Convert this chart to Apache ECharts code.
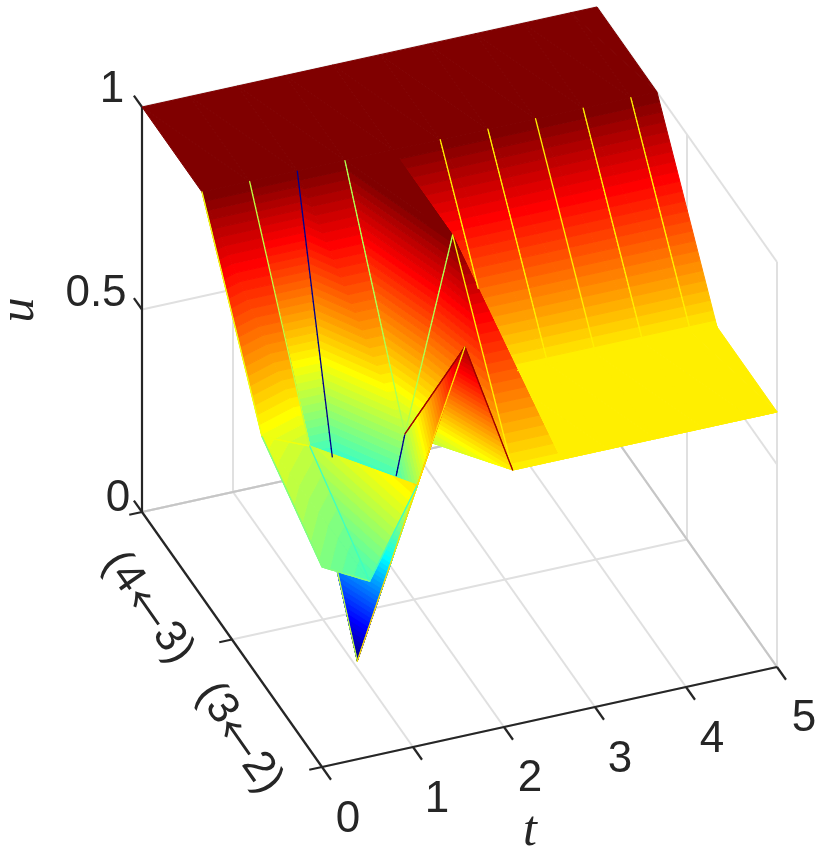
<!DOCTYPE html>
<html>
<head>
<meta charset="utf-8">
<style>html,body{margin:0;padding:0;background:#fff}#c{width:830px;height:859px}</style>
<script src="https://cdn.jsdelivr.net/npm/echarts@6/dist/echarts.min.js"></script>
</head>
<body>
<div id="c"></div>
<script>
// ---- data ----
const tValues = [0, 0.5236, 1.0472, 1.5708, 2.0944, 2.618, 3.1416, 3.6652, 4.1888, 4.7124, 5];
const sValues = [0, 1/3, 2/3, 1];
const uAtS0  = [0.494, 0.433, 0.644, 0.96, 0.63, 0.63, 0.63, 0.63, 0.63, 0.63, 0.63];
const uAtS13 = [0.606, 0.557, 0, 0.535, 1, 0.63, 0.63, 0.63, 0.63, 0.63, 0.63];
const uAtS23 = [1, 1, 1, 1, 1, 1, 1, 1, 1, 1, 1];
const uAtS1  = [1, 1, 1, 1, 1, 1, 1, 1, 1, 1, 1];
const tTicks = [0, 1, 2, 3, 4, 5];
const uTicks = [0, 0.5, 1];
const sTicks = [0, 0.5, 1];
const tTickLabels = ['0', '1', '2', '3', '4', '5'];
const uTickLabels = ['0', '0.5', '1'];
const sTickLabels = ['(3\u21902)', '(4\u21903)'];

const uGrid = [uAtS0, uAtS13, uAtS23, uAtS1];

// ---- oblique view of the (t, s, u) box onto the page plane ----
function proj(t, s, u) { return [322 + 91 * t - 180 * s, 767 - 20 * t - 255 * s - 405 * u]; }
function depth(t, s, u) { return -30 * t - 365.5 * s + 284.5 * u; }

// MATLAB jet(64)
const jet = (function () {
  const ramp = [];
  for (let i = 1; i <= 16; i++) ramp.push(i / 16);
  for (let i = 0; i < 15; i++) ramp.push(1);
  for (let i = 16; i >= 1; i--) ramp.push(i / 16);
  const out = [];
  for (let k = 1; k <= 64; k++) {
    const r = k >= 25 ? ramp[k - 25] : 0;
    const g = (k >= 9 && k <= 55) ? ramp[k - 9] : 0;
    const b = k <= 39 ? ramp[k + 7] : 0;
    out.push('rgb(' + Math.round(r * 255) + ',' + Math.round(g * 255) + ',' + Math.round(b * 255) + ')');
  }
  return out;
})();
function level(u) { return Math.max(0, Math.min(63, Math.floor(u * 64))); }

function clipBand(poly, v, keepAbove) {
  const out = [];
  for (let i = 0; i < poly.length; i++) {
    const a = poly[i], b = poly[(i + 1) % poly.length];
    const ina = keepAbove ? a[2] >= v : a[2] <= v;
    const inb = keepAbove ? b[2] >= v : b[2] <= v;
    if (ina) out.push(a);
    if (ina !== inb) {
      const f = (v - a[2]) / (b[2] - a[2]);
      out.push([a[0] + (b[0] - a[0]) * f, a[1] + (b[1] - a[1]) * f, v]);
    }
  }
  return out;
}

// faces: two triangles per mesh cell, split along the same diagonal everywhere
const faces = [];
function V(i, j) { return [tValues[i], sValues[j], uGrid[j][i]]; }
function addFace(a, b, c) {
  const vs = [a, b, c];
  faces.push({
    vs: vs,
    scr: vs.map(function (v) { const xy = proj(v[0], v[1], v[2]); return [xy[0], xy[1], depth(v[0], v[1], v[2])]; })
  });
}
for (let j = 0; j < sValues.length - 1; j++) {
  for (let i = 0; i < tValues.length - 1; i++) {
    addFace(V(i, j + 1), V(i, j), V(i + 1, j));
    addFace(V(i, j + 1), V(i + 1, j + 1), V(i + 1, j));
  }
}
// depth of a face at a page position, or null if the position is outside it
function faceDepthAt(F, x, y) {
  const a = F.scr[0], b = F.scr[1], c = F.scr[2];
  const den = (b[0] - a[0]) * (c[1] - a[1]) - (c[0] - a[0]) * (b[1] - a[1]);
  if (Math.abs(den) < 1e-6) return null;
  const l1 = ((x - a[0]) * (c[1] - a[1]) - (c[0] - a[0]) * (y - a[1])) / den;
  const l2 = ((b[0] - a[0]) * (y - a[1]) - (x - a[0]) * (b[1] - a[1])) / den;
  if (l1 < 0 || l2 < 0 || l1 + l2 > 1) return null;
  return a[2] + (b[2] - a[2]) * l1 + (c[2] - a[2]) * l2;
}
// which face of each overlapping pair is behind: sampled over both faces
const nF = faces.length;
const behind = [];
for (let i = 0; i < nF; i++) behind.push(new Array(nF).fill(0));
const M = 36;
faces.forEach(function (A, ia) {
  for (let p = 0; p <= M; p++) {
    for (let q = 0; q <= M - p; q++) {
      const w = (M - p - q) / M, l1 = p / M, l2 = q / M;
      const x = A.scr[0][0] * w + A.scr[1][0] * l1 + A.scr[2][0] * l2;
      const y = A.scr[0][1] * w + A.scr[1][1] * l1 + A.scr[2][1] * l2;
      const d = A.scr[0][2] * w + A.scr[1][2] * l1 + A.scr[2][2] * l2;
      for (let ib = 0; ib < nF; ib++) {
        if (ib === ia) continue;
        const db = faceDepthAt(faces[ib], x, y);
        if (db === null) continue;
        if (db - d > 0.5) behind[ia][ib]++;
        else if (d - db > 0.5) behind[ib][ia]++;
      }
    }
  }
});
function meanDepth(F) { return (F.scr[0][2] + F.scr[1][2] + F.scr[2][2]) / 3; }
const order = [];
(function () {
  const left = faces.map(function (f, i) { return i; });
  while (left.length) {
    let best = -1, bestScore = Infinity;
    left.forEach(function (i) {
      let blockers = 0;
      left.forEach(function (j) { if (j !== i && behind[j][i] > behind[i][j]) blockers++; });
      const score = blockers * 1e6 + meanDepth(faces[i]);
      if (score < bestScore) { bestScore = score; best = i; }
    });
    order.push(best);
    left.splice(left.indexOf(best), 1);
  }
})();

// colour bands of each face, back to front
const items = [];
order.forEach(function (idx) {
  const vs = faces[idx].vs;
  const poly = vs.map(function (v) { const xy = proj(v[0], v[1], v[2]); return [xy[0], xy[1], v[2]]; });
  const lo = level(Math.min(vs[0][2], vs[1][2], vs[2][2]));
  const hi = level(Math.max(vs[0][2], vs[1][2], vs[2][2]));
  for (let k = lo; k <= hi; k++) {
    let pg = poly;
    if (k > lo) pg = clipBand(pg, k / 64, true);
    if (k < hi) pg = clipBand(pg, (k + 1) / 64, false);
    if (pg.length >= 3) items.push({ pts: pg.map(function (v) { return [v[0], v[1]]; }), color: jet[k], kind: 'f' });
  }
});

// mesh edges: each takes the colour of its first vertex; a piece is dropped where a face lies in front of it
function hidden(x, y, d) {
  for (let k = 0; k < nF; k++) {
    const dt = faceDepthAt(faces[k], x, y);
    if (dt !== null && dt > d + 1.5) return true;
  }
  return false;
}
const edgeItems = [];
function addEdge(a, b, col) {
  const n = 60;
  for (let k = 0; k < n; k++) {
    const m1 = [0, 1, 2].map(function (m) { return a[m] + (b[m] - a[m]) * k / n; });
    const m2 = [0, 1, 2].map(function (m) { return a[m] + (b[m] - a[m]) * (k + 1) / n; });
    const p1 = proj(m1[0], m1[1], m1[2]), p2 = proj(m2[0], m2[1], m2[2]);
    const d = depth((m1[0] + m2[0]) / 2, (m1[1] + m2[1]) / 2, (m1[2] + m2[2]) / 2);
    if (!hidden((p1[0] + p2[0]) / 2, (p1[1] + p2[1]) / 2, d)) edgeItems.push({ d: d, pts: [p1, p2], color: col, kind: 'e' });
  }
}
// edges between two top-level vertices carry the same dark red as the faces around them and add nothing
for (let j = 0; j < sValues.length; j++) {
  for (let i = 0; i < tValues.length; i++) {
    const c = jet[level(uGrid[j][i])];
    if (i < tValues.length - 1 && !(uGrid[j][i] === 1 && uGrid[j][i + 1] === 1)) addEdge(V(i, j), V(i + 1, j), c);
    if (j < sValues.length - 1 && i < tValues.length - 1 && !(uGrid[j][i] === 1 && uGrid[j + 1][i] === 1)) addEdge(V(i, j), V(i, j + 1), c);
  }
}
edgeItems.sort(function (x, y) { return x.d - y.d; });
edgeItems.forEach(function (e) { items.push(e); });

// box and grid lines
const T0 = tTicks[0], T1 = tTicks[tTicks.length - 1];
const gridLines = [], darkGrid = [], axisLines = [], tickLines = [];
tTicks.forEach(function (t) {
  gridLines.push([proj(t, 0, 0), proj(t, 1, 0)]);
  gridLines.push([proj(t, 1, 0), proj(t, 1, 1)]);
  tickLines.push([proj(t, 0, 0), proj(t, -0.05, 0)]);
});
sTicks.forEach(function (s) {
  gridLines.push([proj(T0, s, 0), proj(T1, s, 0)]);
  gridLines.push([proj(T1, s, 0), proj(T1, s, 1)]);
  tickLines.push([proj(T0, s, 0), proj(T0 - 0.14, s, 0)]);
});
uTicks.forEach(function (u) {
  gridLines.push([proj(T0, 1, u), proj(T1, 1, u)]);
  gridLines.push([proj(T1, 1, u), proj(T1, 0, u)]);
  tickLines.push([proj(T0, 1, u), proj(T0, 1.045, u)]);
});
darkGrid.push([proj(T0, 1, 0), proj(T1, 1, 0)]);
darkGrid.push([proj(T1, 1, 0), proj(T1, 0, 0)]);
axisLines.push([proj(T0, 1, 1), proj(T0, 1, 0)]);
axisLines.push([proj(T0, 1, 0), proj(T0, 0, 0)]);
axisLines.push([proj(T0, 0, 0), proj(T1, 0, 0)]);

const font = '"Liberation Sans", Arial, sans-serif';
const labels = [];
const tLabelPos = [[348, 820], [437, 800], [530, 779], [620, 760], [712, 740], [804, 719]];
tTickLabels.forEach(function (s, i) { labels.push({ text: s, at: tLabelPos[i], font: '44px ' + font, rot: 0 }); });
const uLabelPos = [[118, 499], [96, 294], [112, 90]];
uTickLabels.forEach(function (s, i) { labels.push({ text: s, at: uLabelPos[i], font: '44px ' + font, rot: 0 }); });
// rotated state labels: opening part, arrow and closing part sit along one slanted baseline
const sLabelPos = [[[217, 703], [238, 738], [262, 773]], [[123, 572], [147, 608], [173, 643]]];
sTickLabels.forEach(function (s, i) {
  const parts = [s.slice(0, 2), s.slice(2, 3), s.slice(3)];
  labels.push({ text: parts[0], at: sLabelPos[i][0], font: '44px ' + font, rot: -0.96 });
  labels.push({ text: parts[1], at: sLabelPos[i][1], font: '44px "Noto Sans CJK SC", sans-serif', rot: -0.96 });
  labels.push({ text: parts[2], at: sLabelPos[i][2], font: '44px ' + font, rot: -0.96 });
});
labels.push({ text: 't', at: [530, 832], font: 'italic 50px "Liberation Serif", serif', rot: 0 });
labels.push({ text: 'u', at: [20, 310], font: 'italic 50px "Liberation Serif", serif', rot: Math.PI / 2 });

function lineSeries(lines, color, width, z) {
  return {
    type: 'custom', coordinateSystem: 'cartesian2d', silent: true, animation: false, z: z, progressive: 0,
    data: lines.map(function (l, i) { return i; }),
    encode: { x: 0, y: 0 },
    renderItem: function (params, api) {
      const l = lines[params.dataIndex];
      const a = api.coord(l[0]), b = api.coord(l[1]);
      return { type: 'line', shape: { x1: a[0], y1: a[1], x2: b[0], y2: b[1] },
        style: { stroke: color, lineWidth: width, lineCap: 'butt' } };
    }
  };
}

const chart = echarts.init(document.getElementById('c'), null, { renderer: 'canvas' });
chart.setOption({
  animation: false,
  backgroundColor: '#ffffff',
  grid: { left: 0, right: 0, top: 0, bottom: 0 },
  xAxis: { type: 'value', min: 0, max: 830, show: false },
  yAxis: { type: 'value', min: 0, max: 859, inverse: true, show: false },
  tooltip: { show: false },
  series: [
    lineSeries(gridLines, '#e0e0e0', 2, 1),
    lineSeries(darkGrid, '#c6c6c6', 2, 2),
    lineSeries(axisLines, '#262626', 2.2, 3),
    lineSeries(tickLines, '#262626', 2.2, 3),
    {
      type: 'custom', coordinateSystem: 'cartesian2d', silent: true, animation: false, z: 5, progressive: 0,
      data: items.map(function (it, i) { return i; }),
      encode: { x: 0, y: 0 },
      renderItem: function (params, api) {
        const it = items[params.dataIndex];
        const pts = it.pts.map(function (p) { return api.coord(p); });
        if (it.kind === 'e') {
          return { type: 'polyline', shape: { points: pts },
            style: { stroke: it.color, lineWidth: 1.3, fill: null, lineCap: 'round' } };
        }
        return { type: 'polygon', shape: { points: pts },
          style: { fill: it.color, stroke: it.color, lineWidth: 1, lineJoin: 'round' } };
      }
    },
    {
      type: 'custom', coordinateSystem: 'cartesian2d', silent: true, animation: false, z: 6,
      data: labels.map(function (l, i) { return i; }),
      encode: { x: 0, y: 0 },
      renderItem: function (params, api) {
        const l = labels[params.dataIndex];
        const c = api.coord(l.at);
        return { type: 'text', x: c[0], y: c[1], rotation: l.rot,
          style: { text: l.text, font: l.font, fill: '#262626', align: 'center', verticalAlign: 'middle' } };
      }
    }
  ]
});
</script>
</body>
</html>
